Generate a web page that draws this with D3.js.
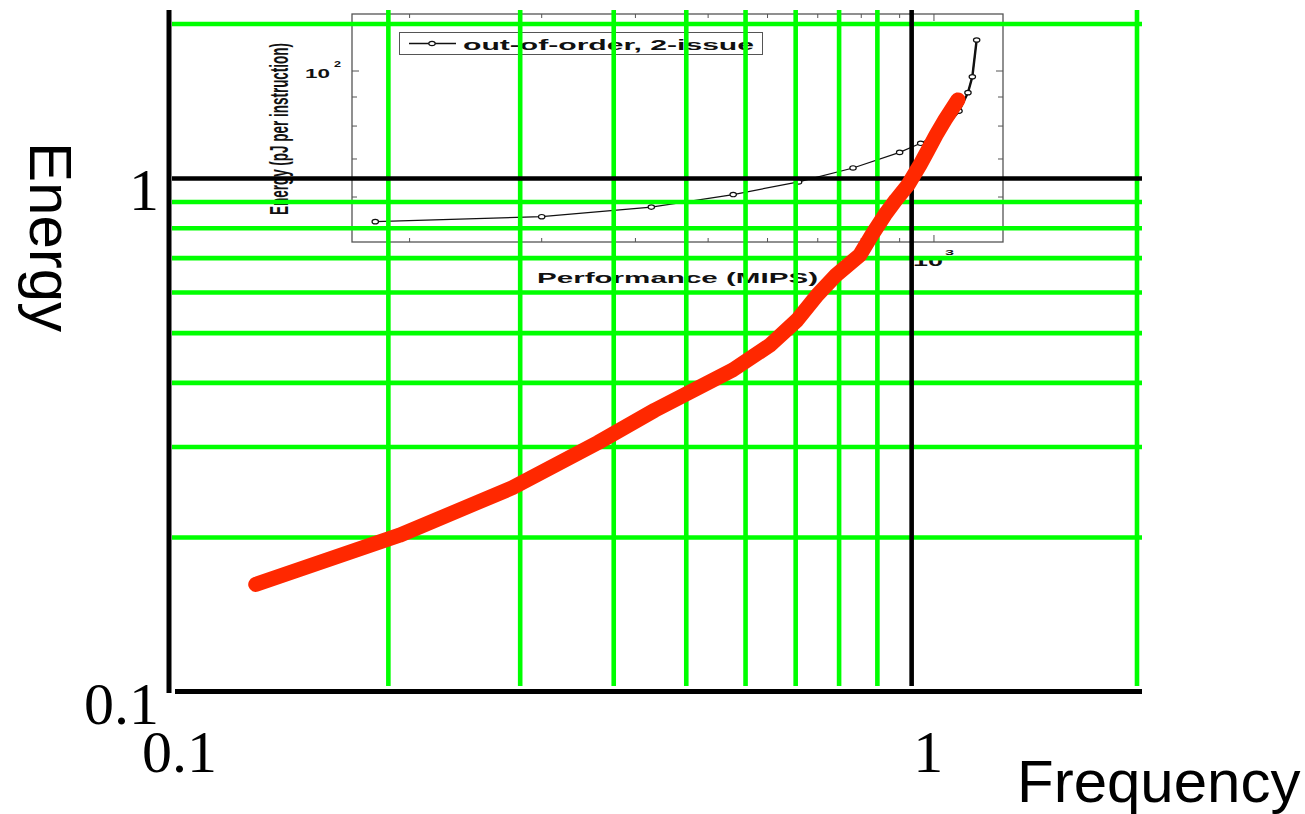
<!DOCTYPE html>
<html lang="en">
<head>
  <meta charset="UTF-8">
  <title>Energy vs Frequency</title>
  <style>
    body { margin: 0; background: #fff; }
    svg { display: block; }
    .tick-label text { font-family: "Liberation Serif", "Times New Roman", serif; font-size: 60px; fill: #000; }
    .axis-title { font-family: "Liberation Sans", Arial, sans-serif; font-size: 60px; fill: #000; }
    .inset text { font-family: "Liberation Sans", Arial, sans-serif; font-weight: bold; fill: #111; }
  </style>
</head>
<body>
  <script src="https://d3js.org/d3.v7.min.js"></script>
  <script>
    // main chart data (log-log)
    const freqGrid = [0.2, 0.3, 0.4, 0.5, 0.6, 0.7, 0.8, 0.9, 2];
    const energyGrid = [0.2, 0.3, 0.4, 0.5, 0.6, 0.7, 0.8, 0.9, 2];
    const unitLine = 1;
    const tickValues = [0.1, 1];
    const redFreq = [0.133, 0.207, 0.293, 0.381, 0.454, 0.577, 0.647, 0.703, 0.748, 0.793,
                     0.853, 0.885, 0.921, 0.953, 0.989, 1.026, 1.052, 1.078, 1.108, 1.153];
    const redEnergy = [0.162, 0.202, 0.250, 0.306, 0.354, 0.424, 0.474, 0.530, 0.593, 0.649,
                       0.710, 0.777, 0.850, 0.909, 0.972, 1.063, 1.137, 1.216, 1.301, 1.423];

    // inset chart data (pasted figure)
    const insetMips = [180, 300, 420, 540, 660, 780, 900, 960, 1020, 1080, 1110, 1125, 1140];
    const insetEnergy = [54.3, 55.4, 57.6, 60.6, 63.8, 67.5, 71.9, 74.6, 77.9, 85.0, 91.6, 97.7, 113.4];
    const insetXTicks = [200, 300, 400, 500, 600, 700, 800, 900, 1000];
    const insetYTicks = [60, 70, 80, 90, 100];
    const legendLabel = 'out-of-order, 2-issue';

    const W = 1305, H = 814;
    const svg = d3.select('body').append('svg').attr('width', W).attr('height', H);

    const x = d3.scaleLog().domain([0.1, 2]).range([163, 1137]);
    const y = d3.scaleLog().domain([0.1, 2]).range([692, 24]);

    const ix = d3.scaleLog().domain([167.6, 1236]).range([352, 1003]);
    const iy = d3.scaleLog().domain([50, 126]).range([242, 14]);

    // ---- inset (drawn first, grid sits on top of it)
    const inset = svg.append('g').attr('class', 'inset');
    inset.append('rect')
      .attr('x', 352).attr('y', 14).attr('width', 651).attr('height', 228)
      .attr('fill', 'none').attr('stroke', '#555').attr('stroke-width', 1.3);

    insetXTicks.forEach(v => {
      const len = v === 1000 ? 7 : 4;
      inset.append('line').attr('x1', ix(v)).attr('x2', ix(v)).attr('y1', 242).attr('y2', 242 - len)
        .attr('stroke', '#555').attr('stroke-width', 1);
      inset.append('line').attr('x1', ix(v)).attr('x2', ix(v)).attr('y1', 14).attr('y2', 14 + len)
        .attr('stroke', '#555').attr('stroke-width', 1);
    });
    insetYTicks.forEach(v => {
      const len = v === 100 ? 7 : 5;
      inset.append('line').attr('x1', 352).attr('x2', 352 + len).attr('y1', iy(v)).attr('y2', iy(v))
        .attr('stroke', '#555').attr('stroke-width', 1);
      inset.append('line').attr('x1', 1003).attr('x2', 1003 - len).attr('y1', iy(v)).attr('y2', iy(v))
        .attr('stroke', '#555').attr('stroke-width', 1);
    });

    const insetPts = insetMips.map((m, i) => [ix(m), iy(insetEnergy[i])]);
    inset.append('path')
      .attr('d', d3.line()(insetPts))
      .attr('fill', 'none').attr('stroke', '#111').attr('stroke-width', 1.2);
    inset.append('path')
      .attr('d', d3.line()(insetPts.slice(8)))
      .attr('fill', 'none').attr('stroke', '#111').attr('stroke-width', 2.4);
    inset.selectAll('ellipse.pt')
      .data(insetPts)
      .enter()
      .append('ellipse')
      .attr('class', 'pt')
      .attr('cx', d => d[0]).attr('cy', d => d[1])
      .attr('rx', 3.2).attr('ry', 2.2)
      .attr('fill', '#fff').attr('stroke', '#111').attr('stroke-width', 1.2);

    // legend
    inset.append('rect')
      .attr('x', 399.5).attr('y', 32.5).attr('width', 363).attr('height', 22)
      .attr('fill', 'none').attr('stroke', '#555').attr('stroke-width', 1);
    inset.append('line').attr('x1', 409).attr('x2', 456).attr('y1', 43.5).attr('y2', 43.5)
      .attr('stroke', '#111').attr('stroke-width', 1.3);
    inset.append('ellipse').attr('cx', 432).attr('cy', 43.5).attr('rx', 3.2).attr('ry', 2.2)
      .attr('fill', '#fff').attr('stroke', '#111').attr('stroke-width', 1.2);
    inset.append('text')
      .attr('x', 463).attr('y', 50)
      .attr('font-size', 15)
      .attr('textLength', 291).attr('lengthAdjust', 'spacingAndGlyphs')
      .text(legendLabel);

    // inset axis labels
    inset.append('text')
      .attr('x', 537).attr('y', 283)
      .attr('font-size', 15)
      .attr('textLength', 281).attr('lengthAdjust', 'spacingAndGlyphs')
      .text('Performance (MIPS)');
    inset.append('text')
      .attr('transform', 'translate(288,215) scale(1.7,1) rotate(-90)')
      .attr('font-size', 15)
      .attr('textLength', 172).attr('lengthAdjust', 'spacingAndGlyphs')
      .text('Energy (pJ per instruction)');
    inset.append('text')
      .attr('x', 305).attr('y', 77.5).attr('font-size', 13)
      .attr('textLength', 25).attr('lengthAdjust', 'spacingAndGlyphs').text('10');
    inset.append('text')
      .attr('x', 334).attr('y', 67).attr('font-size', 8.5)
      .attr('textLength', 7).attr('lengthAdjust', 'spacingAndGlyphs').text('2');
    inset.append('text')
      .attr('x', 913).attr('y', 266).attr('font-size', 15)
      .attr('textLength', 30).attr('lengthAdjust', 'spacingAndGlyphs').text('10');
    inset.append('text')
      .attr('x', 945).attr('y', 254.5).attr('font-size', 8)
      .attr('textLength', 9).attr('lengthAdjust', 'spacingAndGlyphs').text('3');

    // ---- grid
    const grid = svg.append('g').attr('class', 'grid');
    grid.selectAll('line.v')
      .data(freqGrid)
      .enter()
      .append('line')
      .attr('class', 'v')
      .attr('x1', d => x(d)).attr('x2', d => x(d))
      .attr('y1', 10).attr('y2', 686)
      .attr('stroke', '#00ff00').attr('stroke-width', 4.6);
    grid.selectAll('line.h')
      .data(energyGrid)
      .enter()
      .append('line')
      .attr('class', 'h')
      .attr('x1', 172).attr('x2', 1142)
      .attr('y1', d => y(d)).attr('y2', d => y(d))
      .attr('stroke', '#00ff00').attr('stroke-width', 4.6);

    // black lines at 1
    grid.append('line')
      .attr('x1', x(unitLine)).attr('x2', x(unitLine)).attr('y1', 10).attr('y2', 686)
      .attr('stroke', '#000').attr('stroke-width', 4.6);
    grid.append('line')
      .attr('x1', 172).attr('x2', 1142).attr('y1', y(unitLine)).attr('y2', y(unitLine))
      .attr('stroke', '#000').attr('stroke-width', 4.6);

    // axis lines
    svg.append('line').attr('x1', 169).attr('x2', 169).attr('y1', 10).attr('y2', 693)
      .attr('stroke', '#000').attr('stroke-width', 5);
    svg.append('line').attr('x1', 175).attr('x2', 1142).attr('y1', 691.5).attr('y2', 691.5)
      .attr('stroke', '#000').attr('stroke-width', 5);

    // tick labels
    const xAxis = d3.axisBottom(x).tickValues(tickValues).tickFormat(d3.format('')).tickSize(0).tickPadding(0);
    const xg = svg.append('g').attr('class', 'tick-label')
      .attr('transform', 'translate(16,0)')
      .call(xAxis);
    xg.select('.domain').remove();
    xg.selectAll('text').attr('y', 772).attr('dy', null);

    const yAxis = d3.axisLeft(y).tickValues(tickValues).tickFormat(d3.format('')).tickSize(0).tickPadding(0);
    const yg = svg.append('g').attr('class', 'tick-label')
      .attr('transform', 'translate(159,0)')
      .call(yAxis);
    yg.select('.domain').remove();
    yg.selectAll('text').attr('x', 0).attr('dy', 31);

    // axis titles
    svg.append('text').attr('class', 'axis-title')
      .attr('transform', 'translate(30,142) rotate(90)')
      .text('Energy');
    svg.append('text').attr('class', 'axis-title')
      .attr('x', 1017).attr('y', 802)
      .text('Frequency');

    // ---- red curve
    const redPts = redFreq.map((f, i) => [x(f), y(redEnergy[i])]);
    svg.append('path')
      .attr('d', d3.line()(redPts))
      .attr('fill', 'none')
      .attr('stroke', '#ff2800')
      .attr('stroke-width', 15)
      .attr('stroke-linecap', 'round')
      .attr('stroke-linejoin', 'round');
  </script>
</body>
</html>
